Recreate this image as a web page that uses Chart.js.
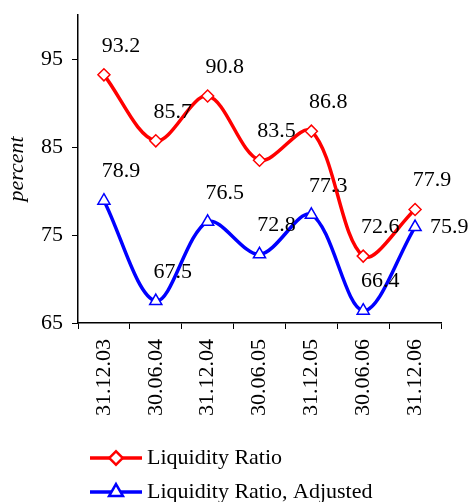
<!DOCTYPE html>
<html>
<head>
<meta charset="utf-8">
<script src="https://cdn.jsdelivr.net/npm/chart.js@4/dist/chart.umd.min.js"></script>
<style>
html,body{margin:0;padding:0;background:#fff;}
#wrap{width:472px;height:502px;position:relative;}
</style>
</head>
<body>
<div id="wrap"><canvas id="c" width="472" height="502"></canvas></div>
<script>
const categories = ["31.12.03","30.06.04","31.12.04","30.06.05","31.12.05","30.06.06","31.12.06"];
const liquidityRatio = [93.2, 85.7, 90.8, 83.5, 86.8, 72.6, 77.9];
const liquidityRatioAdjusted = [78.9, 67.5, 76.5, 72.8, 77.3, 66.4, 75.9];
const yTicks = [65, 75, 85, 95];
const seriesNames = ["Liquidity Ratio", "Liquidity Ratio, Adjusted"];

const FONT = "'Liberation Serif', 'Times New Roman', serif";
const FS = 22;

const labelPlugin = {
  id: 'valueLabels',
  afterDatasetsDraw(chart) {
    const ctx = chart.ctx;
    ctx.save();
    ctx.font = FS + 'px ' + FONT;
    ctx.fillStyle = '#000';
    ctx.textBaseline = 'middle';
    chart.data.datasets.forEach((ds, di) => {
      const meta = chart.getDatasetMeta(di);
      meta.data.forEach((pt, i) => {
        const txt = ds.data[i].toFixed(1);
        let dx = 17, dy = -29, align = 'center';
        if (di === 1 && i === ds.data.length - 1) { dx = 15; dy = 0; align = 'left'; }
        ctx.textAlign = align;
        ctx.fillText(txt, pt.x + dx, pt.y + dy);
      });
    });
    ctx.restore();
  }
};

const legendPlugin = {
  id: 'customLegend',
  afterDraw(chart) {
    const ctx = chart.ctx;
    const ys = [458, 492];
    ctx.save();
    chart.data.datasets.forEach((ds, di) => {
      const y = ys[di];
      ctx.strokeStyle = ds.borderColor;
      ctx.lineWidth = 3.5;
      ctx.beginPath();
      ctx.moveTo(90, y);
      ctx.lineTo(142, y);
      ctx.stroke();
      Chart.helpers.drawPoint(ctx, {
        pointStyle: ds.pointStyle,
        radius: ds.pointRadius,
        borderWidth: ds.pointBorderWidth,
        rotation: 0
      }, 116, y);
      ctx.fillStyle = '#fff';
      ctx.strokeStyle = ds.borderColor;
      ctx.lineWidth = ds.pointBorderWidth;
      ctx.fill();
      ctx.stroke();
      ctx.fillStyle = '#000';
      ctx.font = FS + 'px ' + FONT;
      ctx.textAlign = 'left';
      ctx.textBaseline = 'middle';
      ctx.fillText(seriesNames[di], 147, y);
    });
    ctx.restore();
  }
};

new Chart(document.getElementById('c'), {
  type: 'line',
  data: {
    labels: categories,
    datasets: [
      {
        label: seriesNames[0],
        data: liquidityRatio,
        borderColor: '#ff0000',
        borderWidth: 3.5,
        pointStyle: 'rectRot',
        pointRadius: 6,
        pointBorderWidth: 1.5,
        pointBackgroundColor: '#ffffff',
        pointBorderColor: '#ff0000',
        tension: 0.33,
        fill: false
      },
      {
        label: seriesNames[1],
        data: liquidityRatioAdjusted,
        borderColor: '#0000ff',
        borderWidth: 3.5,
        pointStyle: 'triangle',
        pointRadius: 7,
        pointBorderWidth: 1.5,
        pointBackgroundColor: '#ffffff',
        pointBorderColor: '#0000ff',
        tension: 0.33,
        fill: false
      }
    ]
  },
  options: {
    responsive: false,
    animation: false,
    devicePixelRatio: 1,
    layout: { padding: { top: 15, right: 31, bottom: 77, left: 0 } },
    plugins: {
      legend: { display: false },
      tooltip: { enabled: false }
    },
    scales: {
      x: {
        offset: true,
        grid: { display: true, offset: true, drawOnChartArea: false, color: '#000', tickLength: 6, tickColor: '#000' },
        border: { display: true, color: '#000', width: 1.5 },
        ticks: {
          color: '#000',
          font: { family: FONT, size: FS },
          minRotation: 90, maxRotation: 90,
          padding: 10,
          autoSkip: false
        },
        afterFit(scale) { scale.height = 102; scale.paddingLeft = 0; scale.paddingRight = 0; }
      },
      y: {
        min: 65, max: 100,
        grid: { display: true, drawOnChartArea: false, color: '#000', tickLength: 6, tickColor: '#000' },
        border: { display: true, color: '#000', width: 1.5 },
        ticks: {
          color: '#000',
          font: { family: FONT, size: FS },
          padding: 9
        },
        afterBuildTicks(scale) { scale.ticks = yTicks.map(v => ({ value: v })); },
        title: {
          display: true,
          text: 'percent',
          color: '#000',
          font: { family: FONT, size: FS, style: 'italic' },
          padding: { top: 4, bottom: 0 }
        },
        afterFit(scale) { scale.width = 78; scale.paddingTop = 0; scale.paddingBottom = 0; }
      }
    }
  },
  plugins: [labelPlugin, legendPlugin]
});
</script>
</body>
</html>
